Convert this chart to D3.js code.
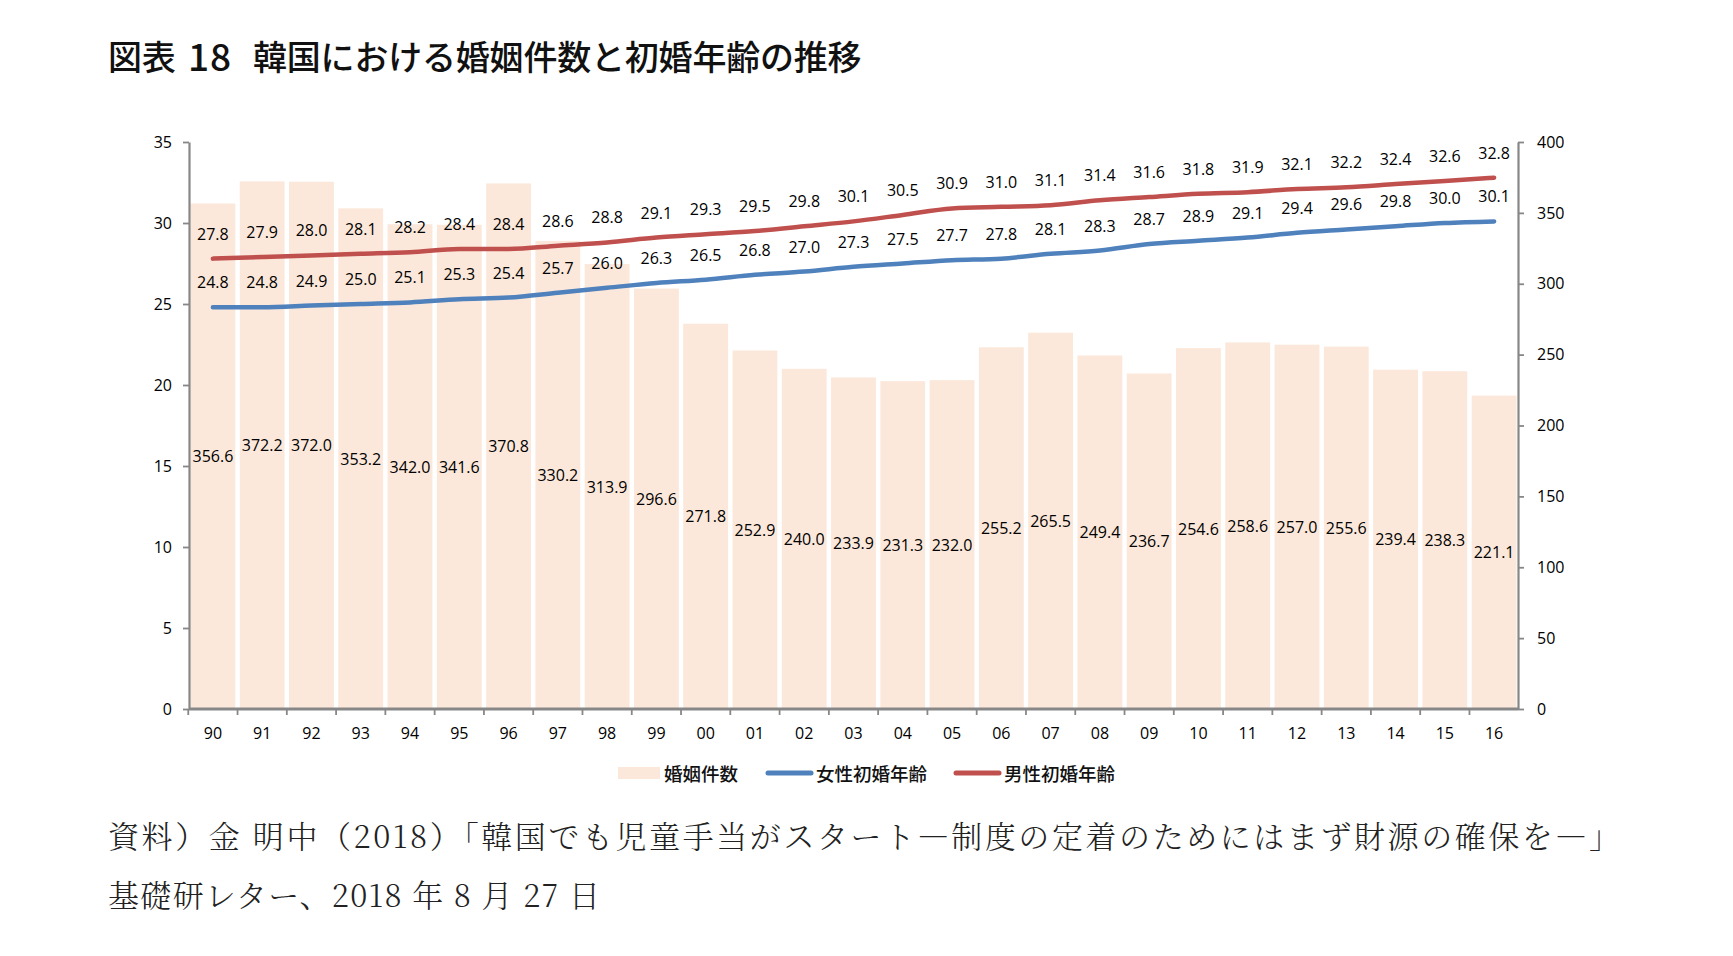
<!DOCTYPE html>
<html lang="ja">
<head>
<meta charset="UTF-8">
<title>韓国における婚姻件数と初婚年齢の推移</title>
<script src="https://d3js.org/d3.v7.min.js"></script>
<style>
  body { margin: 0; background: #fff; }
  svg { display: block; }
  .tick text { font-family: "Open Sans", "Noto Sans", sans-serif; }
</style>
</head>
<body>
<svg id="chart" width="1733" height="956"></svg>

<script>
// data
var years = ["90","91","92","93","94","95","96","97","98","99","00","01","02","03","04","05","06","07","08","09","10","11","12","13","14","15","16"];
var marriages = [356.6, 372.2, 372.0, 353.2, 342.0, 341.6, 370.8, 330.2, 313.9, 296.6, 271.8, 252.9, 240.0, 233.9, 231.3, 232.0, 255.2, 265.5, 249.4, 236.7, 254.6, 258.6, 257.0, 255.6, 239.4, 238.3, 221.1];
var womenAge = [24.8, 24.8, 24.9, 25.0, 25.1, 25.3, 25.4, 25.7, 26.0, 26.3, 26.5, 26.8, 27.0, 27.3, 27.5, 27.7, 27.8, 28.1, 28.3, 28.7, 28.9, 29.1, 29.4, 29.6, 29.8, 30.0, 30.1];
var menAge = [27.8, 27.9, 28.0, 28.1, 28.2, 28.4, 28.4, 28.6, 28.8, 29.1, 29.3, 29.5, 29.8, 30.1, 30.5, 30.9, 31.0, 31.1, 31.4, 31.6, 31.8, 31.9, 32.1, 32.2, 32.4, 32.6, 32.8];
var leftTicks = [0, 5, 10, 15, 20, 25, 30, 35];
var rightTicks = [0, 50, 100, 150, 200, 250, 300, 350, 400];
var legendNames = ["婚姻件数", "女性初婚年齢", "男性初婚年齢"];

var titleParts = ["図表", "18", "韓国における婚姻件数と初婚年齢の推移"];
var sourceLines = [
  "資料）金 明中（2018）「韓国でも児童手当がスタート―制度の定着のためにはまず財源の確保を―」",
  "基礎研レター、2018 年 8 月 27 日"
];

var barColor = "#FCE8DA", blue = "#4F81BD", red = "#C0504D", axisGray = "#878787";
var numFont = "'Open Sans', 'Noto Sans', sans-serif";
var jpFont = "'Noto Sans CJK JP', sans-serif";

var plot = {left: 189, right: 1518, top: 142, bottom: 709};

var svg = d3.select("#chart");

// title, in three pieces so the gaps match
var titleX = [108, 188, 253];
svg.append("g")
  .selectAll("text")
  .data(titleParts)
  .enter()
  .append("text")
  .attr("x", function(d, i) { return titleX[i]; })
  .attr("y", 55)
  .attr("dominant-baseline", "central")
  .style("font-family", jpFont)
  .style("font-size", function(d, i) { return i == 1 ? "37px" : "34px"; })
  .style("font-weight", 500)
  .style("letter-spacing", function(d, i) { return i == 1 ? "1px" : "-0.2px"; })
  .attr("fill", "#111")
  .text(function(d) { return d; });

var x = d3.scaleBand()
  .domain(years)
  .range([plot.left, plot.right])
  .paddingInner(0.09)
  .paddingOuter(0.03);

var yAge = d3.scaleLinear().domain([0, 35]).range([plot.bottom, plot.top]);
var yCount = d3.scaleLinear().domain([0, 400]).range([plot.bottom, plot.top]);

var cx = function(i) { return x(years[i]) + x.bandwidth() / 2; };

// bars (right axis)
svg.append("g")
  .selectAll("rect")
  .data(marriages)
  .enter()
  .append("rect")
  .attr("x", function(d, i) { return x(years[i]); })
  .attr("y", function(d) { return yCount(d); })
  .attr("width", x.bandwidth())
  .attr("height", function(d) { return yCount(0) - yCount(d); })
  .attr("fill", barColor);

// bar labels, centered in the bar
svg.append("g")
  .selectAll("text")
  .data(marriages)
  .enter()
  .append("text")
  .attr("x", function(d, i) { return cx(i); })
  .attr("y", function(d) { return (yCount(d) + yCount(0)) / 2; })
  .attr("text-anchor", "middle")
  .attr("dominant-baseline", "central")
  .style("font-family", numFont)
  .style("font-size", "16px")
  .attr("fill", "#000")
  .text(function(d) { return d.toFixed(1); });

// age lines
var line = d3.line()
  .x(function(d, i) { return cx(i); })
  .y(function(d) { return yAge(d); })
  .curve(d3.curveMonotoneX);

[[womenAge, blue], [menAge, red]].forEach(function(s) {
  svg.append("path")
    .datum(s[0])
    .attr("d", line)
    .attr("fill", "none")
    .attr("stroke", s[1])
    .attr("stroke-width", 4.5)
    .attr("stroke-linecap", "round");

  svg.append("g")
    .selectAll("text")
    .data(s[0])
    .enter()
    .append("text")
    .attr("x", function(d, i) { return cx(i); })
    .attr("y", function(d) { return yAge(d) - 25; })
    .attr("text-anchor", "middle")
    .attr("dominant-baseline", "central")
    .style("font-family", numFont)
    .style("font-size", "16px")
    .attr("fill", "#000")
    .text(function(d) { return d.toFixed(1); });
});

// axes
var leftAxis = svg.append("g")
  .attr("transform", "translate(" + plot.left + ",0)")
  .call(d3.axisLeft(yAge).tickValues(leftTicks).tickSize(6).tickPadding(11).tickSizeOuter(0));

var rightAxis = svg.append("g")
  .attr("transform", "translate(" + plot.right + ",0)")
  .call(d3.axisRight(yCount).tickValues(rightTicks).tickSize(6).tickPadding(13).tickSizeOuter(0));

// x axis: ticks sit between the categories
var bottomAxis = svg.append("g")
  .attr("transform", "translate(0," + plot.bottom + ")")
  .call(d3.axisBottom(x).tickSize(0).tickPadding(19));

bottomAxis.selectAll(".tick")
  .append("line")
  .attr("x1", -x.step() / 2)
  .attr("x2", -x.step() / 2)
  .attr("y1", 0)
  .attr("y2", 6);

bottomAxis.append("line")
  .attr("x1", plot.right)
  .attr("x2", plot.right)
  .attr("y1", 0)
  .attr("y2", 6);

[leftAxis, rightAxis, bottomAxis].forEach(function(a) {
  a.select(".domain").attr("stroke", axisGray).attr("stroke-width", 2.2);
  a.selectAll(".tick line").attr("stroke", axisGray).attr("stroke-width", 1.8);
  a.selectAll(".tick text")
    .style("font-size", "16px")
    .attr("fill", "#000");
});

bottomAxis.select(".domain")
  .attr("d", "M" + plot.left + ",0H" + plot.right)
  .attr("stroke-width", 3);

// legend
var legend = svg.append("g").attr("transform", "translate(0,773)");
var legendX = [618, 768, 956];

legend.append("rect")
  .attr("x", legendX[0])
  .attr("y", -6)
  .attr("width", 42)
  .attr("height", 12)
  .attr("fill", barColor);

[blue, red].forEach(function(c, i) {
  legend.append("line")
    .attr("x1", legendX[i + 1])
    .attr("x2", legendX[i + 1] + 43)
    .attr("y1", 0)
    .attr("y2", 0)
    .attr("stroke", c)
    .attr("stroke-width", 5)
    .attr("stroke-linecap", "round");
});

legend.selectAll("text.leg")
  .data(legendNames)
  .enter()
  .append("text")
  .attr("class", "leg")
  .attr("x", function(d, i) { return legendX[i] + (i ? 48 : 46); })
  .attr("y", 0)
  .attr("dominant-baseline", "central")
  .style("font-family", jpFont)
  .style("font-size", "18.5px")
  .style("font-weight", 500)
  .attr("fill", "#111")
  .text(function(d) { return d; });

// source note
var sourceWidth = [1512, 492];
svg.selectAll("text.src")
  .data(sourceLines)
  .enter()
  .append("text")
  .attr("class", "src")
  .attr("x", 108)
  .attr("y", function(d, i) { return 834 + i * 59; })
  .attr("dominant-baseline", "central")
  .attr("textLength", function(d, i) { return sourceWidth[i]; })
  .attr("lengthAdjust", "spacing")
  .style("font-family", "'Noto Serif CJK JP', 'DejaVu Serif', 'Noto Sans CJK JP', serif")
  .style("font-size", "31px")
  .style("font-weight", 300)
  .attr("fill", "#222")
  .text(function(d) { return d; });
</script>
</body>
</html>
